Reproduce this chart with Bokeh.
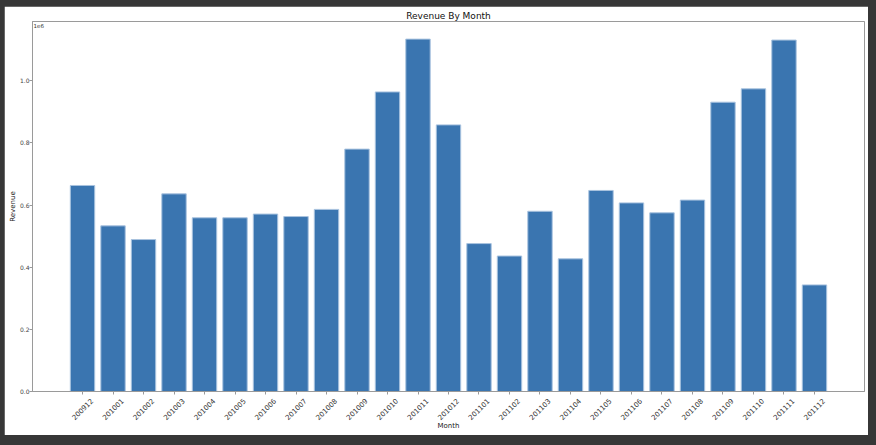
import math
import re
from bokeh.plotting import figure
from bokeh.models import (Range1d, FixedTicker, Label, ColumnDataSource, LinearAxis,
                          CustomJSTickFormatter)
from bokeh.embed import file_html
from bokeh.resources import INLINE

months = ["200912", "201001", "201002", "201003", "201004", "201005", "201006", "201007",
          "201008", "201009", "201010", "201011", "201012", "201101", "201102", "201103",
          "201104", "201105", "201106", "201107", "201108", "201109", "201110", "201111",
          "201112"]
revenue = [663000, 533000, 489000, 636000, 559000, 559000, 571000, 563000,
           586000, 780000, 964000, 1134000, 858000, 476000, 436000, 580000,
           427000, 647000, 607000, 575000, 616000, 931000, 974000, 1131000,
           343000]
y_ticks = [0, 200000, 400000, 600000, 800000, 1000000]
y_tick_labels = ["0.0", "0.2", "0.4", "0.6", "0.8", "1.0"]

FONT = "DejaVu Sans"
GREY = "#9a9a9a"
BAR_W = 0.8

n = len(months)
idx = list(range(n))
span = (n - 1) + BAR_W
x_start = -BAR_W / 2 - 0.05 * span
x_end = (n - 1) + BAR_W / 2 + 0.05 * span

src = ColumnDataSource(dict(i=idx, month=months, revenue=revenue))

p = figure(width=864, height=429, output_backend="svg", toolbar_location=None,
           x_range=Range1d(x_start, x_end),
           y_range=Range1d(0, max(revenue) * 1.05),
           title="Revenue By Month",
           min_border_left=28, min_border_right=4, min_border_top=15, min_border_bottom=44)

p.vbar(x="i", top="revenue", width=BAR_W, source=src,
       fill_color="#3a75b0", line_color="#a9c3df", line_width=1)

p.background_fill_color = "white"
p.border_fill_color = "white"
p.outline_line_color = GREY
p.outline_line_width = 1
p.grid.visible = False

p.title.text_font = FONT
p.title.text_font_size = "9px"
p.title.text_font_style = "normal"
p.title.text_color = "#111111"
p.title.align = "center"
p.title.standoff = 2

# y axis
ya = p.yaxis[0]
ya.ticker = FixedTicker(ticks=y_ticks)
ya.major_label_overrides = {t: l for t, l in zip(y_ticks, y_tick_labels)}
ya.major_label_text_font = FONT
ya.major_label_text_font_size = "6px"
ya.major_label_text_color = "#444444"
ya.major_tick_in = 0
ya.major_tick_out = 3
ya.minor_tick_in = 0
ya.minor_tick_out = 0
ya.major_tick_line_color = GREY
ya.axis_line_color = GREY
ya.major_label_standoff = 0
ya.axis_label = "Revenue"
ya.axis_label_text_font = FONT
ya.axis_label_text_font_size = "7px"
ya.axis_label_text_font_style = "normal"
ya.axis_label_text_color = "#222222"
ya.axis_label_standoff = 0

# x axis: tick marks only
xa = p.xaxis[0]
xa.ticker = FixedTicker(ticks=idx)
xa.formatter = CustomJSTickFormatter(code="return ''")
xa.major_label_text_font_size = "1px"
xa.major_label_standoff = 0
xa.major_tick_in = 0
xa.major_tick_out = 3
xa.minor_tick_in = 0
xa.minor_tick_out = 0
xa.major_tick_line_color = GREY
xa.axis_line_color = GREY

# x axis: rotated month labels, centred under each tick
shift = 0.3
xlab = LinearAxis(
    ticker=FixedTicker(ticks=[i + shift for i in idx]),
    formatter=CustomJSTickFormatter(args=dict(months=months, shift=shift),
                                    code="return months[Math.round(tick - shift)]"),
    major_label_orientation=math.pi / 4,
    major_label_text_font=FONT, major_label_text_font_size="7px",
    major_label_text_color="#333333", major_label_standoff=5,
    major_tick_in=0, major_tick_out=0, minor_tick_in=0, minor_tick_out=0,
    axis_line_color=None,
    axis_label="Month", axis_label_text_font=FONT, axis_label_text_font_size="7px",
    axis_label_text_font_style="normal", axis_label_text_color="#222222",
    axis_label_standoff=-4)
p.add_layout(xlab, "below")

offset = Label(x=1, x_units="screen", y=max(revenue) * 1.05, text="1e6",
               text_align="left", text_baseline="top", y_offset=-1,
               text_font=FONT, text_font_size="5.5px", text_color="#333333")
p.add_layout(offset)

html = file_html(p, INLINE)
html = re.sub(r"<body[^>]*>", '<body style="background-color:#373737;">', html, count=1)
html = html.replace(
    "</head>",
    "<style>html, body { background-color: #373737; } body { padding: 6px 0 0 4px; }</style></head>",
    1)
open("out.html", "w").write(html)
